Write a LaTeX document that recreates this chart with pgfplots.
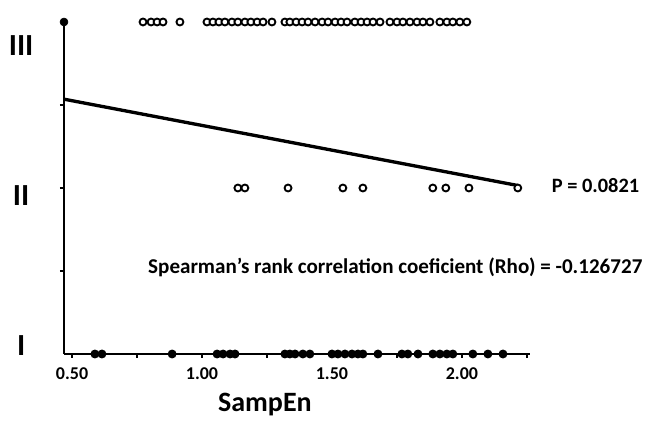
\documentclass[border=0pt]{standalone}
\usepackage{fontspec}
\setmainfont{Carlito}
\usepackage{pgfplots}
\pgfplotsset{compat=1.18}
\begin{document}
\begin{tikzpicture}
\begin{axis}[
  scale only axis, width=349.5pt, height=249pt,
  xmin=0.469, xmax=2.262, ymin=1, ymax=3,
  axis lines=left, axis line style={line width=2.2pt, -},
  clip=false,
  xtick={0.5,1,1.5,2}, minor xtick={0.75,1.25,1.75,2.25},
  ytick={1.5,2,2.5}, yticklabels={},
  tick align=outside, major tick length=3pt, minor tick length=3pt,
  tick style={line width=1pt, black},
  /pgf/number format/fixed, /pgf/number format/fixed zerofill,
  /pgf/number format/precision=2, /pgf/number format/assume math mode=true,
  xticklabel style={font=\bfseries\fontsize{13.5}{15}\selectfont, anchor=center, yshift=-12pt},
]
\addplot[line width=2.5pt, no marks] coordinates {(0.469,2.535) (2.215,2.015)};
% Group III
\addplot[only marks, mark=*, mark size=2.6pt, mark options={fill=white, draw=black, line width=1.4pt}] coordinates {
(0.773,3)(0.804,3)(0.827,3)(0.850,3)(0.915,3)(1.019,3)(1.042,3)(1.065,3)(1.088,3)(1.115,3)
(1.138,3)(1.165,3)(1.188,3)(1.212,3)(1.235,3)(1.269,3)(1.319,3)(1.338,3)(1.362,3)(1.385,3)
(1.408,3)(1.435,3)(1.462,3)(1.485,3)(1.512,3)(1.535,3)(1.558,3)(1.588,3)(1.612,3)(1.635,3)
(1.658,3)(1.685,3)(1.723,3)(1.750,3)(1.773,3)(1.800,3)(1.827,3)(1.850,3)(1.877,3)(1.915,3)
(1.942,3)(1.965,3)(1.992,3)(2.019,3)};
% Group II
\addplot[only marks, mark=*, mark size=2.6pt, mark options={fill=white, draw=black, line width=1.4pt}] coordinates {
(1.138,2)(1.165,2)(1.331,2)(1.542,2)(1.619,2)(1.888,2)(1.938,2)(2.027,2)(2.215,2)};
% Group I
\addplot[only marks, mark=*, mark size=2.6pt, mark options={fill=black, draw=black, line width=1.4pt}] coordinates {
(0.588,1)(0.615,1)(0.885,1)(1.058,1)(1.081,1)(1.108,1)(1.127,1)(1.319,1)(1.338,1)(1.358,1)
(1.388,1)(1.415,1)(1.500,1)(1.523,1)(1.550,1)(1.577,1)(1.600,1)(1.619,1)(1.677,1)(1.769,1)
(1.792,1)(1.831,1)(1.888,1)(1.915,1)(1.942,1)(1.965,1)(2.042,1)(2.100,1)(2.158,1)};
% axis top dot
\addplot[only marks, mark=*, mark size=3pt, black] coordinates {(0.469,3)};
\node[font=\bfseries\fontsize{23}{26}\selectfont] at (axis cs:0.304,2.861) {III};
\node[font=\bfseries\fontsize{23}{26}\selectfont] at (axis cs:0.304,1.955) {II};
\node[font=\bfseries\fontsize{23}{26}\selectfont] at (axis cs:0.304,1.048) {I};
\node[font=\bfseries\fontsize{15.3}{17}\selectfont, anchor=west] at (axis cs:2.328,2.015) {P = 0.0821};
\node[font=\bfseries\fontsize{15.8}{18}\selectfont, anchor=west] at (axis cs:0.775,1.52) {Spearman’s rank correlation coeficient (Rho) = -0.126727};
\node[font=\bfseries\fontsize{21}{24}\selectfont] at (axis cs:1.242,1) [yshift=-38pt] {SampEn};
\coordinate (o) at (axis cs:0.469,1);
\end{axis}
\pgfresetboundingbox
\path[use as bounding box] (o) ++(-48pt,-51.75pt) rectangle ++(492pt,317.25pt);
\end{tikzpicture}
\end{document}
